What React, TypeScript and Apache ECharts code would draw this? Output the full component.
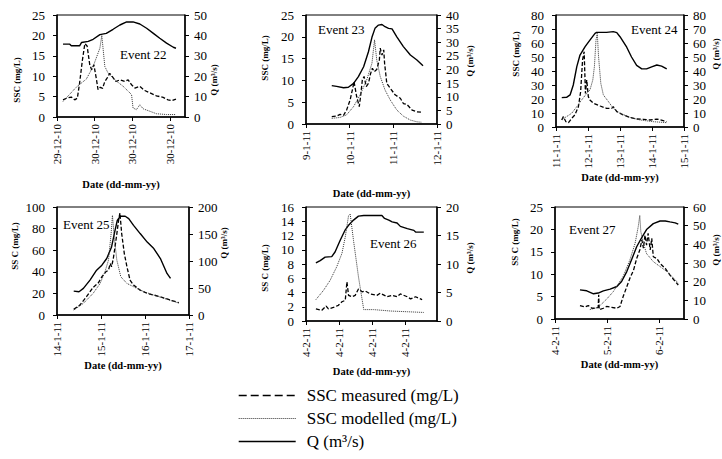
import React, { useEffect, useRef } from "react";
import * as echarts from "echarts";

const FONT = "'Liberation Serif', 'Times New Roman', serif";

// ---- tick labels ----
const e22Ticks = ["29-12-10", "30-12-10", "30-12-10", "30-12-10"];
const e23Ticks = ["9-1-11", "10-1-11", "11-1-11", "12-1-11"];
const e24Ticks = ["11-1-11", "12-1-11", "13-1-11", "14-1-11", "15-1-11"];
const e25Ticks = ["14-1-11", "15-1-11", "16-1-11", "17-1-11"];
const e26Ticks = ["4-2-11", "4-2-11", "4-2-11", "4-2-11"];
const e27Ticks = ["4-2-11", "5-2-11", "6-2-11"];

// ---- Event 22 (x in tick units) ----
const e22Q = [[0.16,35.7],[0.34,35.7],[0.38,34.9],[0.6,34.9],[0.65,36.5],[0.83,37.1],[0.96,38.1],[1.14,40.4],[1.31,41.0],[1.49,43.0],[1.67,45.1],[1.85,46.6],[2.02,46.6],[2.2,45.6],[2.38,43.5],[2.56,41.0],[2.73,38.6],[2.91,36.2],[3.09,34.2],[3.16,33.7]];
const e22Meas = [[0.16,4.2],[0.25,4.6],[0.38,4.9],[0.47,4.2],[0.54,4.6],[0.6,8.3],[0.67,13.6],[0.74,18.0],[0.8,17.4],[0.87,12.8],[0.92,11.6],[0.98,12.8],[1.05,9.1],[1.09,6.7],[1.15,7.3],[1.21,7.0],[1.27,8.7],[1.33,9.5],[1.4,10.7],[1.47,9.9],[1.56,8.7],[1.67,9.1],[1.8,8.7],[1.89,9.1],[1.98,7.9],[2.07,7.1],[2.2,7.5],[2.33,6.5],[2.47,5.9],[2.64,5.2],[2.82,4.8],[2.95,4.2],[3.04,4.0],[3.16,4.4]];
const e22Mod = [[0.16,3.8],[0.51,7.3],[0.78,9.3],[0.96,12.4],[1.14,16.9],[1.19,20.0],[1.27,12.4],[1.36,10.7],[1.54,9.1],[1.76,7.5],[1.98,5.5],[2.02,2.2],[2.11,1.8],[2.2,3.0],[2.29,2.0],[2.47,1.4],[2.64,0.8],[2.91,0.6],[3.16,0.6]];

// ---- Event 23 ----
const e23Q = [[0.59,14.1],[0.7,13.8],[0.86,13.3],[0.97,13.5],[1.09,14.9],[1.2,17.4],[1.32,21.0],[1.43,26.5],[1.51,31.8],[1.58,35.1],[1.66,36.3],[1.74,36.5],[1.81,35.7],[1.89,35.1],[1.97,34.9],[2.08,32.0],[2.23,28.4],[2.39,25.3],[2.54,23.5],[2.68,21.4]];
const e23Meas = [[0.59,1.7],[0.7,1.8],[0.78,2.2],[0.86,2.0],[0.93,3.2],[1.01,5.5],[1.07,8.2],[1.1,9.7],[1.16,6.3],[1.22,4.0],[1.25,6.3],[1.29,10.1],[1.33,10.9],[1.38,8.6],[1.43,9.3],[1.48,11.6],[1.52,12.8],[1.56,12.0],[1.62,12.5],[1.68,14.7],[1.7,17.4],[1.74,15.8],[1.78,17.0],[1.8,13.9],[1.83,11.2],[1.85,9.3],[1.93,8.2],[2.04,6.7],[2.16,5.9],[2.23,4.7],[2.31,4.5],[2.43,3.2],[2.54,2.8],[2.65,2.7]];
const e23Mod = [[0.59,1.3],[0.78,1.5],[0.93,2.1],[1.09,4.0],[1.24,6.7],[1.39,10.1],[1.51,13.9],[1.57,19.3],[1.62,14.7],[1.7,10.9],[1.81,7.8],[1.93,5.5],[2.08,3.2],[2.23,1.8],[2.39,0.9],[2.54,0.5],[2.65,0.4]];

// ---- Event 24 ----
const e24Q = [[0.18,21.0],[0.33,21.2],[0.44,22.9],[0.54,30.0],[0.65,43.1],[0.75,51.4],[0.91,57.4],[1.06,62.1],[1.22,66.9],[1.27,67.6],[1.58,67.6],[1.79,68.1],[1.9,67.4],[2.0,64.5],[2.21,57.0],[2.36,50.0],[2.52,44.0],[2.68,41.5],[2.83,41.5],[2.99,43.0],[3.15,44.3],[3.3,43.5],[3.46,41.5]];
const e24Meas = [[0.18,5.0],[0.23,7.4],[0.31,3.8],[0.39,3.1],[0.49,6.2],[0.59,8.6],[0.7,14.5],[0.77,25.2],[0.83,47.9],[0.88,53.8],[0.92,24.0],[0.96,33.6],[1.01,21.7],[1.06,19.3],[1.17,16.9],[1.38,15.0],[1.58,13.3],[1.74,13.3],[1.79,14.5],[1.9,11.0],[2.1,8.6],[2.31,6.9],[2.52,5.7],[2.73,5.5],[2.94,5.0],[3.15,5.7],[3.35,4.5],[3.46,3.8]];
const e24Mod = [[0.18,5.5],[0.33,7.4],[0.49,9.8],[0.65,14.5],[0.8,19.3],[0.96,24.0],[1.06,26.4],[1.15,33.6],[1.2,43.1],[1.25,62.1],[1.29,66.9],[1.33,50.2],[1.4,31.2],[1.48,22.9],[1.64,18.1],[1.79,13.3],[2.0,9.8],[2.31,6.9],[2.63,5.0],[3.04,3.8],[3.46,3.1]];

// ---- Event 25 ----
const e25Q = [[0.38,44.3],[0.5,43.1],[0.6,49.2],[0.75,64.6],[0.9,83.0],[1.02,92.3],[1.13,104.6],[1.24,126],[1.32,157],[1.37,175],[1.44,182.8],[1.55,182.8],[1.63,178.5],[1.74,166],[1.89,150.8],[2.05,135],[2.2,123],[2.35,104.6],[2.5,77],[2.58,67.7]];
const e25Meas = [[0.38,5.2],[0.52,9.2],[0.67,16.9],[0.82,25.5],[0.94,29.8],[1.02,35.4],[1.11,40.0],[1.17,41.5],[1.21,47.7],[1.24,44.6],[1.28,52.3],[1.34,69.2],[1.4,87.7],[1.43,94.5],[1.47,75.4],[1.53,56.9],[1.59,44.6],[1.66,32.3],[1.74,27.7],[1.89,23.0],[2.05,20.0],[2.2,18.5],[2.35,16.9],[2.58,13.8],[2.77,11.4]];
const e25Mod = [[0.38,4.6],[0.6,10.8],[0.82,20.0],[0.98,29.2],[1.09,40.0],[1.17,50.8],[1.23,75.4],[1.26,92.3],[1.3,72.3],[1.36,50.8],[1.45,35.4],[1.59,29.2],[1.74,26.2],[1.89,23.0],[2.12,19.5],[2.35,16.5],[2.58,13.5],[2.77,11.0]];

// ---- Event 26 ----
const e26Q = [[0.3,10.2],[0.43,10.6],[0.58,11.2],[0.78,11.3],[0.88,12.1],[1.04,14.2],[1.19,16.0],[1.29,16.8],[1.44,17.7],[1.59,18.4],[1.75,18.5],[2.3,18.5],[2.38,18.0],[2.51,17.7],[2.61,17.4],[2.76,17.2],[2.86,16.6],[3.07,16.2],[3.27,15.9],[3.32,15.6],[3.57,15.6]];
const e26Meas = [[0.3,1.7],[0.48,1.5],[0.61,2.1],[0.68,1.7],[0.83,1.9],[0.98,2.2],[1.09,2.7],[1.19,2.9],[1.24,5.5],[1.29,3.6],[1.39,3.4],[1.49,3.6],[1.59,4.5],[1.7,4.1],[1.8,4.2],[1.95,3.8],[2.15,3.6],[2.25,3.9],[2.46,3.4],[2.61,3.6],[2.76,3.4],[2.86,3.8],[3.07,3.4],[3.17,3.1],[3.32,3.4],[3.52,3.0]];
const e26Mod = [[0.3,3.0],[0.53,4.3],[0.73,5.7],[0.93,7.6],[1.09,9.5],[1.19,11.8],[1.29,14.8],[1.34,15.0],[1.44,11.3],[1.59,6.2],[1.75,1.6],[2.05,1.6],[2.56,1.4],[3.07,1.3],[3.57,1.2]];

// ---- Event 27 ----
const e27Q = [[0.48,15.6],[0.61,15.1],[0.74,13.5],[0.83,13.9],[0.93,15.1],[1.06,16.0],[1.19,17.4],[1.28,20.1],[1.38,25.4],[1.47,31.6],[1.57,38.7],[1.67,43.7],[1.76,47.9],[1.89,51.1],[2.02,52.5],[2.12,52.5],[2.21,52.0],[2.31,51.5],[2.37,50.8]];
const e27Meas = [[0.48,3.0],[0.58,2.7],[0.64,3.0],[0.71,2.4],[0.77,2.4],[0.83,2.6],[0.84,5.4],[0.85,2.1],[0.93,2.4],[0.99,2.8],[1.09,2.6],[1.19,2.4],[1.25,2.8],[1.31,5.0],[1.38,7.2],[1.44,9.1],[1.51,10.9],[1.57,13.5],[1.63,15.4],[1.67,17.6],[1.7,15.8],[1.73,18.7],[1.76,16.5],[1.79,19.1],[1.83,15.4],[1.86,18.0],[1.89,13.9],[1.96,13.5],[2.02,12.4],[2.12,11.3],[2.21,9.8],[2.31,8.4],[2.37,7.6]];
const e27Mod = [[0.67,2.1],[0.83,2.6],[0.99,4.4],[1.12,6.1],[1.31,9.5],[1.44,13.2],[1.54,16.9],[1.6,20.6],[1.63,23.1],[1.65,19.5],[1.7,16.9],[1.76,14.6],[1.89,12.8],[2.02,11.7],[2.15,10.6],[2.28,9.1],[2.37,8.0]];

// ---- axis ranges ----
const sscMax = [25, 25, 80, 100, 16, 25];
const sscStep = [5, 5, 10, 20, 2, 5];
const qMax = [50, 40, 80, 200, 20, 60];
const qStep = [10, 5, 10, 50, 5, 10];
const xMax = [3.4, 3, 4, 3, 3.97, 2.48];
const eventNames = ["Event 22", "Event 23", "Event 24", "Event 25", "Event 26", "Event 27"];
const sscNames = ["SSC (mg/L)", "SSC (mg/L)", "SSC (mg/L)", "SS C (mg/L)", "SS C (mg/L)", "SS C (mg/L)"];

const SERIES_MEAS = "SSC measured (mg/L)";
const SERIES_MOD = "SSC modelled (mg/L)";
const SERIES_Q = "Q (m³/s)";

// ---- layout (pixels) ----
const grids = [
  { left: 57, top: 15, width: 128, height: 102 },
  { left: 306, top: 15, width: 131, height: 109 },
  { left: 556, top: 15, width: 128, height: 112 },
  { left: 57, top: 207, width: 132, height: 108 },
  { left: 306, top: 207, width: 131, height: 114 },
  { left: 555, top: 207, width: 129, height: 112 },
];
const xNameGap = [62, 64, 43, 44, 45, 40];
const eventPos = [[120, 54], [318, 29], [631, 29], [63, 224], [370, 243], [569, 229]];
const sscNamePos = [[17, 80], [265, 58], [516, 54], [15, 246], [265, 268], [515, 242]];
const qNamePos = [[214, 80], [470, 61], [716, 54], [224, 243], [470, 258], [716, 250]];

export default function App() {
  const ref = useRef<HTMLDivElement>(null);
  useEffect(() => {
    if (!ref.current) return;
    const chart = echarts.init(ref.current, undefined, { renderer: "svg" });
    const ticksAll = [e22Ticks, e23Ticks, e24Ticks, e25Ticks, e26Ticks, e27Ticks];
    const qAll = [e22Q, e23Q, e24Q, e25Q, e26Q, e27Q];
    const measAll = [e22Meas, e23Meas, e24Meas, e25Meas, e26Meas, e27Meas];
    const modAll = [e22Mod, e23Mod, e24Mod, e25Mod, e26Mod, e27Mod];

    const axisLine = { show: true, onZero: false, lineStyle: { color: "#000", width: 1.5 } };
    const tickStyle = { show: true, length: 4, lineStyle: { color: "#000", width: 1 } };
    const labelBase = { color: "#000", fontFamily: FONT };

    const xAxis: any[] = [];
    const yAxis: any[] = [];
    const series: any[] = [];
    const graphic: any[] = [];

    const textStyle = (text: string, size: number, bold: boolean, align: string) => ({
      text,
      fontFamily: FONT,
      fontSize: size,
      fontWeight: bold ? "bold" : "normal",
      fill: "#000",
      align,
      verticalAlign: "middle",
      textAlign: align,
      textVerticalAlign: "middle",
    });

    grids.forEach((g, i) => {
      const ticks = ticksAll[i];
      const tv = ticks.map((_, k) => k);
      xAxis.push({
        gridIndex: i,
        type: "value",
        min: 0,
        max: xMax[i],
        interval: 1,
        axisLine,
        axisTick: { ...tickStyle, customValues: tv },
        axisLabel: {
          ...labelBase,
          fontSize: 11,
          rotate: 90,
          margin: 7,
          customValues: tv,
          formatter: (v: number) => {
            const k = Math.round(v);
            return Math.abs(v - k) < 1e-6 && ticks[k] ? ticks[k] : "";
          },
        },
        splitLine: { show: false },
        name: "Date (dd-mm-yy)",
        nameLocation: "middle",
        nameGap: xNameGap[i],
        nameTextStyle: { ...labelBase, fontSize: 10.5, fontWeight: "bold" },
      });
      yAxis.push({
        gridIndex: i,
        type: "value",
        position: "left",
        min: 0,
        max: sscMax[i],
        interval: sscStep[i],
        axisLine,
        axisTick: tickStyle,
        axisLabel: { ...labelBase, fontSize: 13, margin: 12 },
        splitLine: { show: false },
      });
      yAxis.push({
        gridIndex: i,
        type: "value",
        position: "right",
        min: 0,
        max: qMax[i],
        interval: qStep[i],
        axisLine,
        axisTick: tickStyle,
        axisLabel: { ...labelBase, fontSize: 13, margin: 9 },
        splitLine: { show: false },
      });
      series.push({
        name: SERIES_Q,
        type: "line",
        xAxisIndex: i,
        yAxisIndex: 2 * i + 1,
        data: qAll[i],
        symbol: "none",
        itemStyle: { color: "#000" },
        lineStyle: { color: "#000", width: 1.4, type: "solid" },
      });
      series.push({
        name: SERIES_MEAS,
        type: "line",
        xAxisIndex: i,
        yAxisIndex: 2 * i,
        data: measAll[i],
        symbol: "none",
        itemStyle: { color: "#000" },
        lineStyle: { color: "#000", width: 1.3, type: [4, 2] },
      });
      series.push({
        name: SERIES_MOD,
        type: "line",
        xAxisIndex: i,
        yAxisIndex: 2 * i,
        data: modAll[i],
        symbol: "none",
        itemStyle: { color: "#333" },
        lineStyle: { color: "#333", width: 1, type: [1, 1] },
      });
      graphic.push({
        type: "text",
        x: eventPos[i][0],
        y: eventPos[i][1],
        style: textStyle(eventNames[i], 13, false, "left"),
      });
      graphic.push({
        type: "text",
        x: sscNamePos[i][0],
        y: sscNamePos[i][1],
        rotation: Math.PI / 2,
        style: textStyle(sscNames[i], 9, true, "center"),
      });
      graphic.push({
        type: "text",
        x: qNamePos[i][0],
        y: qNamePos[i][1],
        rotation: Math.PI / 2,
        style: textStyle("Q (m³/s)", 9, true, "center"),
      });
    });

    const hideSymbol = { opacity: 0, borderWidth: 0, color: "rgba(0,0,0,0)", borderColor: "rgba(0,0,0,0)" };

    chart.setOption({
      animation: false,
      backgroundColor: "#fff",
      grid: grids.map((g) => ({ ...g, show: true, borderColor: "#000", borderWidth: 1, containLabel: false })),
      xAxis,
      yAxis,
      series,
      graphic,
      legend: {
        orient: "vertical",
        left: 238,
        top: 387,
        padding: 0,
        itemWidth: 57,
        itemHeight: 14,
        itemGap: 6,
        selectedMode: false,
        itemStyle: hideSymbol,
        textStyle: { fontFamily: FONT, fontSize: 17, color: "#000", padding: [0, 0, 0, 6] },
        data: [
          { name: SERIES_MEAS, itemStyle: hideSymbol, lineStyle: { type: [8, 4], width: 1.3, color: "#000" } },
          { name: SERIES_MOD, itemStyle: hideSymbol, lineStyle: { type: [1, 1], width: 1, color: "#333" } },
          { name: SERIES_Q, itemStyle: hideSymbol, lineStyle: { type: "solid", width: 1.4, color: "#000" } },
        ],
      },
    });
    return () => chart.dispose();
  }, []);
  return <div ref={ref} style={{ position: "absolute", left: 0, top: 0, width: 722, height: 459 }} />;
}
